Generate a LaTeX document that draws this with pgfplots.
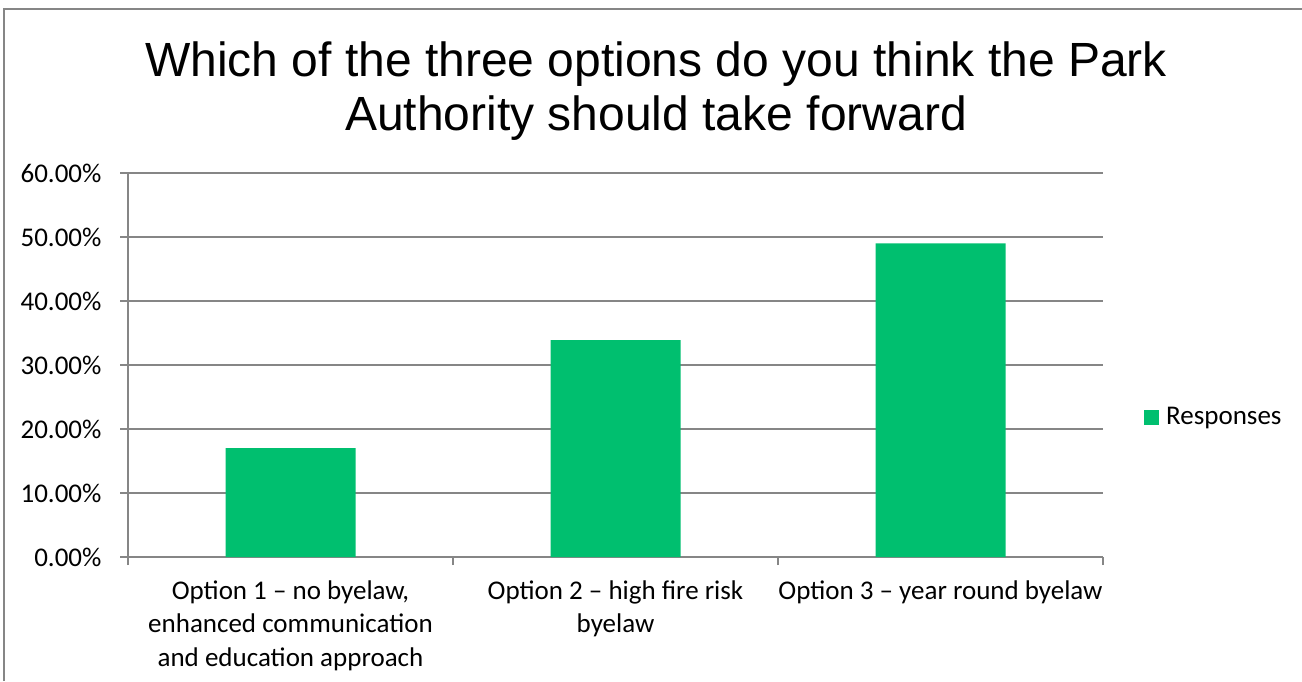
\documentclass[border=0pt]{standalone}
\usepackage{pgfplots}
\pgfplotsset{compat=1.18}
\usepackage{fontspec}
\setmainfont{Carlito}
\newfontfamily\titlefont{Liberation Sans}
\definecolor{bargreen}{RGB}{0,191,111}
\definecolor{axgray}{RGB}{134,134,134}
\begin{document}
\begin{tikzpicture}[x=1pt,y=1pt]
\path[use as bounding box] (0,0) rectangle (1302,-681);
\draw[axgray, line width=1.5pt] (4,-681) -- (4,-9) -- (1302,-9);
\node[anchor=base, font=\titlefont\fontsize{48}{55}\selectfont] at (656,-76) {Which of the three options do you think the Park};
\node[anchor=base, font=\titlefont\fontsize{48}{55}\selectfont] at (656,-130) {Authority should take forward};
\begin{axis}[
  at={(128pt,-557pt)}, anchor=south west,
  width=975pt, height=384pt, scale only axis,
  xmin=-0.5, xmax=2.5, ymin=0, ymax=60,
  ybar, bar width=130pt,
  axis x line*=bottom, axis y line*=left,
  axis line style={axgray, line width=1.2pt},
  ytick={0,10,20,30,40,50,60},
  yticklabel={\pgfmathprintnumber[fixed,fixed zerofill,precision=2]{\tick}\%},
  ymajorgrids, grid style={axgray, line width=1.2pt},
  xtick={0,1,2},
  xticklabels={{Option 1 -- no byelaw,\\enhanced communication\\and education approach},{Option 2 -- high fire risk\\byelaw},{Option 3 -- year round byelaw}},
  minor xtick={-0.5,0.5,1.5,2.5},
  every major x tick/.append style={draw=none},
  tick align=outside, major tick length=8pt, minor tick length=8pt,
  tick style={axgray, line width=1.2pt},
  ticklabel style={font=\fontsize{27}{33.5}\selectfont, text=black},
  xticklabel style={align=center, yshift=-12pt},
  yticklabel style={xshift=-15pt},
  /pgf/number format/assume math mode=true,
  legend style={draw=none, at={(1.042,0.3646)}, anchor=west, inner sep=0pt, font=\fontsize{27}{30}\selectfont,
    nodes={inner sep=0pt, xshift=0pt}},
  legend image code/.code={\fill[bargreen] (0pt,-7.5pt) rectangle (15pt,7.5pt);},
  legend cell align=left,
  legend style={/tikz/every odd column/.append style={column sep=7pt}},
]
\addplot[fill=bargreen, draw=none] coordinates {(0,17.0) (1,33.9) (2,49.0)};
\addlegendentry{Responses}
\end{axis}
\end{tikzpicture}
\end{document}
